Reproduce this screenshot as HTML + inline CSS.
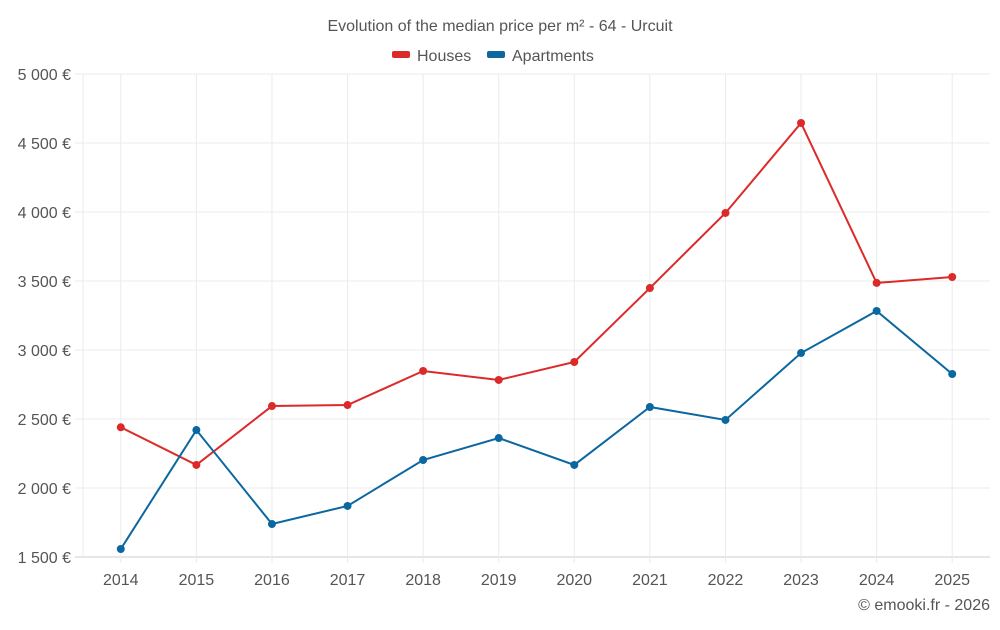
<!DOCTYPE html>
<html><head><meta charset="utf-8"><style>
body{margin:0;background:#fff;font-family:"Liberation Sans",sans-serif}
svg text{font-family:"Liberation Sans",sans-serif}
</style></head><body>
<svg id="chart" width="1000" height="625">
<text x="500" y="31" text-anchor="middle" font-size="16" fill="#555">Evolution of the median price per m² - 64 - Urcuit</text>
<g>
<g><rect x="392" y="51" width="18" height="7" rx="2" fill="#dc2a2a"/><text x="417" y="61" font-size="16" fill="#555">Houses</text></g>
<g><rect x="487" y="51" width="18" height="7" rx="2" fill="#0b67a0"/><text x="512" y="61" font-size="16" fill="#555">Apartments</text></g>
</g>
<g id="grid"></g><g id="axes"></g><g id="series"></g>
<text x="990" y="610" text-anchor="end" font-size="16" fill="#555">© emooki.fr - 2026</text>
</svg>
<script>
const years=["2014","2015","2016","2017","2018","2019","2020","2021","2022","2023","2024","2025"];
const houses=[2440,2167,2594,2601,2848,2783,2913,3449,3993,4645,3486,3529];
const apartments=[1558,2420,1739,1870,2203,2362,2167,2587,2493,2978,3283,2826];
const yTicks=[1500,2000,2500,3000,3500,4000,4500,5000];
const yTickLabels=["1 500 €","2 000 €","2 500 €","3 000 €","3 500 €","4 000 €","4 500 €","5 000 €"];
const L=83,R=990,T=74,B=557,yMin=1500,yMax=5000;
const step=(R-L)/years.length;
const xs=i=>L+step*(i+0.5);
const ys=v=>B-(v-yMin)/(yMax-yMin)*(B-T);
const NS="http://www.w3.org/2000/svg";
function mk(tag,attrs,parent){const e=document.createElementNS(NS,tag);for(const k in attrs)e.setAttribute(k,attrs[k]);parent.appendChild(e);return e;}
const grid=document.getElementById('grid'),axes=document.getElementById('axes'),series=document.getElementById('series');
yTicks.forEach((v,i)=>{
 const l=mk('line',{x1:L-8,x2:R,y1:ys(v),y2:ys(v),stroke:i==0?'#ccc':'#ebebeb'},grid);
 
 
 const t=mk('text',{x:71,y:ys(v)+6,'text-anchor':'end','font-size':16,fill:'#555'},axes);
 t.textContent=yTickLabels[i];
 
 
});
const edge=mk('line',{x1:L,x2:L,y1:T,y2:B,stroke:'#ebebeb'},grid);


years.forEach((y,i)=>{
 const l=mk('line',{x1:xs(i),x2:xs(i),y1:T,y2:B+6,stroke:'#ebebeb'},grid);
 
 
 const t=mk('text',{x:xs(i),y:585,'text-anchor':'middle','font-size':16,fill:'#555'},axes);
 t.textContent=y;
 
 
});
function draw(vals,color,name){
 const p=mk('polyline',{points:vals.map((v,i)=>xs(i)+','+ys(v)).join(' '),fill:'none',stroke:color,'stroke-width':2},series);
 
 
 vals.forEach((v,i)=>{
  const c=mk('circle',{cx:xs(i),cy:ys(v),r:4,fill:color},series);
  
  
 });
}
draw(houses,'#dc2a2a','houses');
draw(apartments,'#0b67a0','apartments');
</script>
</body></html>
